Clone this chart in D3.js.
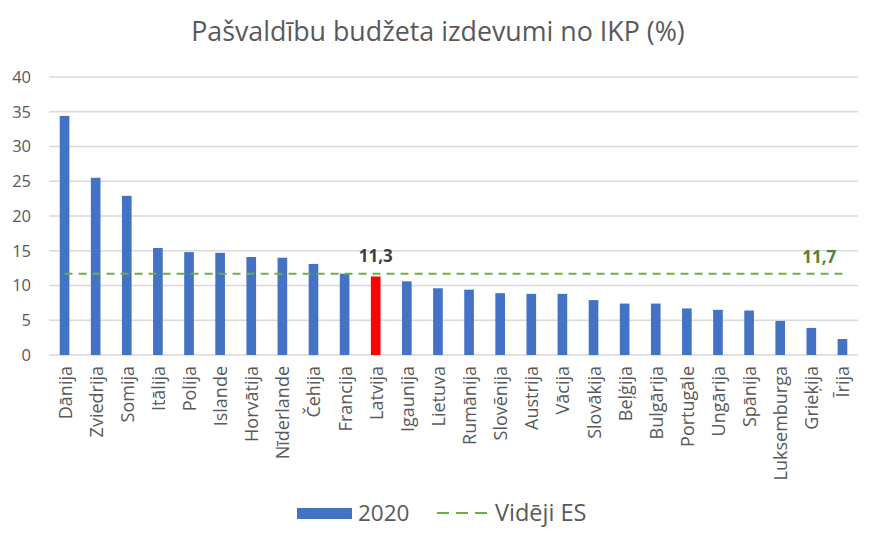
<!DOCTYPE html>
<html>
<head>
<meta charset="utf-8">
<script src="https://cdn.jsdelivr.net/npm/d3@7"></script>
<style>
  body { margin: 0; background: #fff; }
  text { font-family: "Open Sans", sans-serif; }
</style>
</head>
<body>
<svg width="880" height="545"></svg>
<script>
var countries = ["Dānija", "Zviedrija", "Somija", "Itālija", "Polija", "Islande", "Horvātija", "Nīderlande",
  "Čehija", "Francija", "Latvija", "Igaunija", "Lietuva", "Rumānija", "Slovēnija", "Austrija", "Vācija",
  "Slovākija", "Beļģija", "Bulgārija", "Portugāle", "Ungārija", "Spānija", "Luksemburga", "Grieķija", "Īrija"];
var values2020 = [34.4, 25.5, 22.9, 15.4, 14.8, 14.7, 14.1, 14.0, 13.1, 11.7, 11.3, 10.6, 9.6, 9.4, 8.9,
  8.8, 8.8, 7.9, 7.4, 7.4, 6.7, 6.5, 6.4, 4.9, 3.9, 2.3];
var euAverage = 11.7;
var yTicks = [0, 5, 10, 15, 20, 25, 30, 35, 40];
var highlight = "Latvija";

var svg = d3.select("svg"),
    margin = {left: 49, right: 22, top: 77, bottom: 190},
    width = 880 - margin.left - margin.right,
    height = 545 - margin.top - margin.bottom;

var data = countries.map(function(c, i) { return {name: c, value: values2020[i]}; });

var x = d3.scaleBand().domain(countries).range([margin.left, margin.left + width]).paddingInner(0.69).paddingOuter(0.345);
var y = d3.scaleLinear().domain([0, 40]).range([355, 77]);

// title
svg.append("text")
    .attr("x", 438).attr("y", 41)
    .attr("text-anchor", "middle")
    .attr("font-size", 26.8)
    .attr("fill", "#595959")
    .text("Pašvaldību budžeta izdevumi no IKP (%)");

// gridlines
svg.append("g").selectAll("line")
    .data(yTicks)
    .enter().append("line")
      .attr("x1", margin.left).attr("x2", margin.left + width)
      .attr("y1", function(d) { return y(d); })
      .attr("y2", function(d) { return y(d); })
      .attr("stroke", "#d9d9d9")
      .attr("stroke-width", 1.3);

// y axis
var yAxis = svg.append("g")
    .attr("transform", "translate(" + (margin.left - 18) + ",0)")
    .call(d3.axisLeft(y).tickValues(yTicks).tickSize(0).tickPadding(0));
yAxis.select(".domain").remove();
yAxis.selectAll("text").attr("font-size", 16.5).attr("fill", "#595959");

// bars
svg.append("g").selectAll("rect")
    .data(data)
    .enter().append("rect")
      .attr("x", function(d) { return x(d.name); })
      .attr("width", x.bandwidth())
      .attr("y", function(d) { return y(d.value); })
      .attr("height", function(d) { return y(0) - y(d.value); })
      .attr("fill", function(d) { return d.name === highlight ? "#ff0000" : "#4472c4"; });

// x labels
var xAxis = svg.append("g")
    .attr("transform", "translate(0," + y(0) + ")")
    .call(d3.axisBottom(x).tickSize(0).tickPadding(0));
xAxis.select(".domain").remove();
xAxis.selectAll("text")
    .attr("font-size", 18)
    .attr("fill", "#595959")
    .attr("text-anchor", "end")
    .attr("dy", null)
    .attr("transform", "translate(7,11) rotate(-90)");

// EU average line
var first = countries[0], last = countries[countries.length - 1];
svg.append("line")
    .attr("x1", x(first) + x.bandwidth() / 2)
    .attr("x2", x(last) + x.bandwidth() / 2)
    .attr("y1", y(euAverage)).attr("y2", y(euAverage))
    .attr("stroke", "#70ad47")
    .attr("stroke-width", 2)
    .attr("stroke-dasharray", "8,6");

// data labels
var hl = data.filter(function(d) { return d.name === highlight; })[0];
svg.append("text")
    .attr("x", x(hl.name) + x.bandwidth() / 2)
    .attr("y", y(hl.value) - 14)
    .attr("text-anchor", "middle")
    .attr("font-size", 17).attr("font-weight", "bold")
    .attr("fill", "#404040")
    .text(d3.format(".1f")(hl.value).replace(".", ","));

svg.append("text")
    .attr("x", x(countries[countries.length - 2]) + x.bandwidth() / 2 + 8)
    .attr("y", y(euAverage) - 11)
    .attr("text-anchor", "middle")
    .attr("font-size", 17).attr("font-weight", "bold")
    .attr("fill", "#548235")
    .text(d3.format(".1f")(euAverage).replace(".", ","));

// legend
var lg = svg.append("g");
lg.append("rect").attr("x", 297).attr("y", 508).attr("width", 55).attr("height", 11).attr("fill", "#4472c4");
lg.append("text").attr("x", 358).attr("y", 521).attr("font-size", 22.5).attr("fill", "#595959").text("2020");
lg.append("line").attr("x1", 437).attr("x2", 493).attr("y1", 513).attr("y2", 513)
    .attr("stroke", "#70ad47").attr("stroke-width", 2).attr("stroke-dasharray", "12,7");
lg.append("text").attr("x", 495).attr("y", 521).attr("font-size", 23.5).attr("fill", "#595959").text("Vidēji ES");
</script>
</body>
</html>
